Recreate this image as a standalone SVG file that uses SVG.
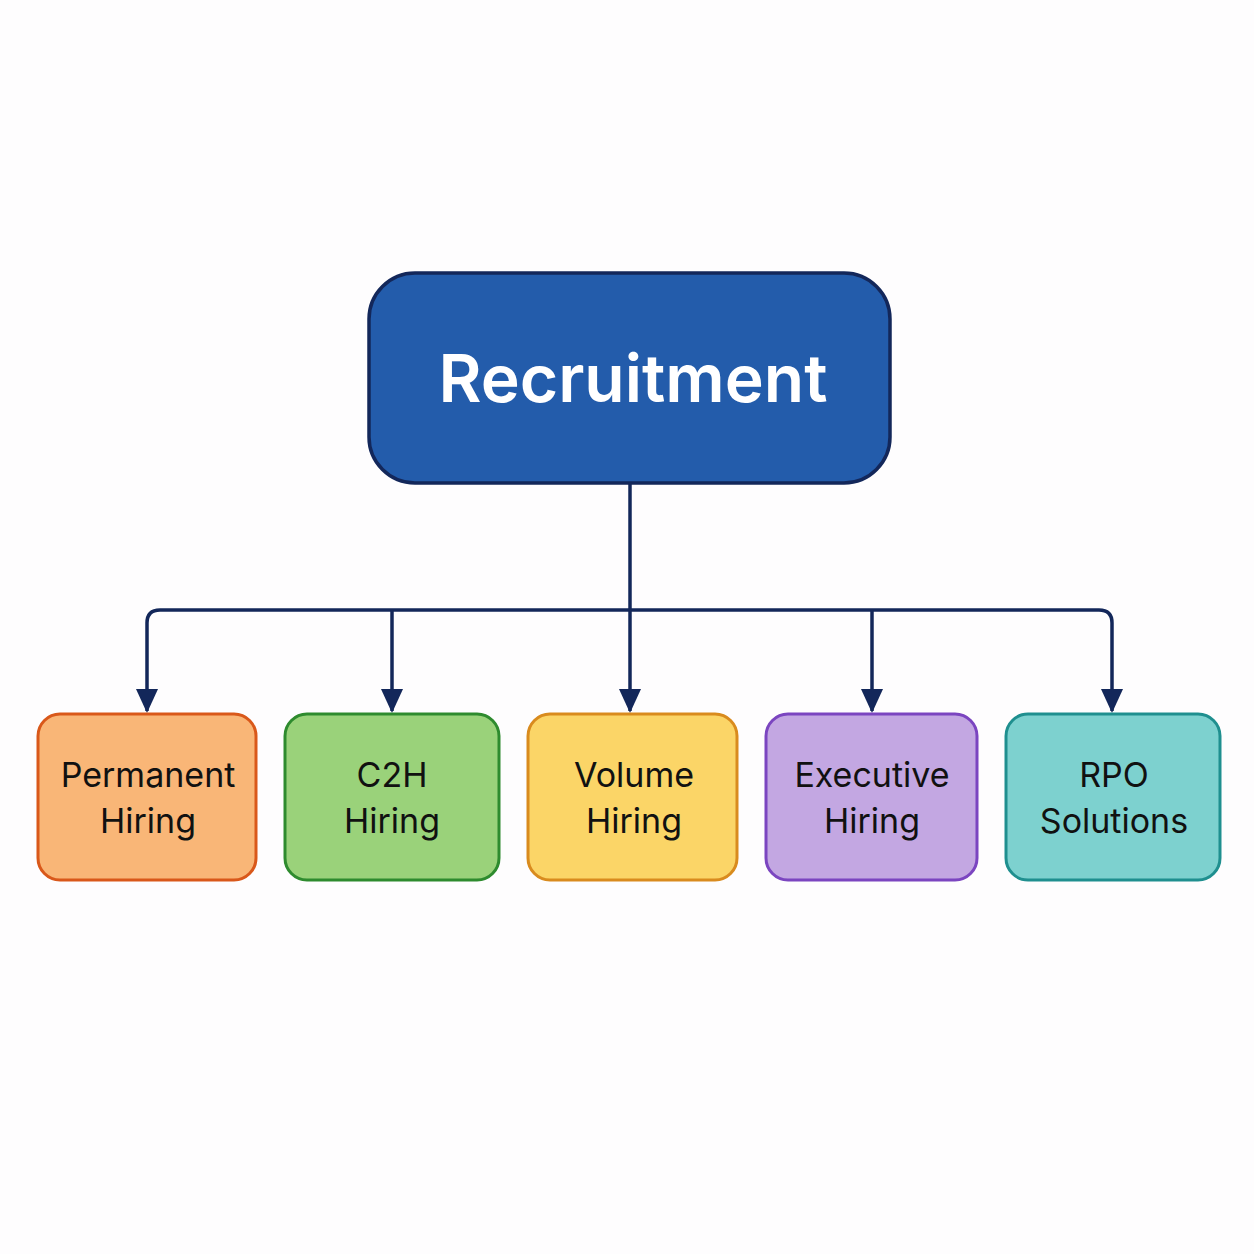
<svg xmlns="http://www.w3.org/2000/svg" width="1254" height="1254" viewBox="0 0 1254 1254">
<defs>
<style>
.lbl{font-family:Inter,"Open Sans","Liberation Sans",sans-serif;font-size:34px;fill:#111;text-anchor:middle}
.box{stroke-width:3}
.con{fill:none;stroke:#13275A;stroke-width:3.5}
</style>
<marker id="ah" viewBox="0 0 10 10" refX="9" refY="5" markerWidth="7" markerHeight="7" markerUnits="userSpaceOnUse" orient="auto">
<path d="M0,0 L10,5 L0,10 z" fill="#13275A"/>
</marker>
<marker id="a" viewBox="0 0 24 24" refX="22" refY="12" markerWidth="24" markerHeight="24" markerUnits="userSpaceOnUse" orient="auto">
<path d="M0,1 L24,12 L0,23 z" fill="#13275A"/>
</marker>
</defs>
<rect width="1254" height="1254" fill="#FEFDFE"/>
<g id="connectors">
<path class="con" d="M630,484 V610"/>
<path class="con" d="M630,610 H160 Q147,610 147,623 V711" marker-end="url(#a)"/>
<path class="con" d="M630,610 H1099 Q1112,610 1112,623 V711" marker-end="url(#a)"/>
<path class="con" d="M392,610 V711" marker-end="url(#a)"/>
<path class="con" d="M630,610 V711" marker-end="url(#a)"/>
<path class="con" d="M872,610 V711" marker-end="url(#a)"/>
</g>
<g id="root">
<rect x="369" y="273" width="521" height="210" rx="46" fill="#235CAB" stroke="#13275A" stroke-width="3.5"/>
<text x="633" y="402" font-family="Inter,'Open Sans','Liberation Sans',sans-serif" font-size="66" font-weight="600" fill="#fff" text-anchor="middle">Recruitment</text>
</g>
<g id="permanent">
<rect class="box" x="38" y="714" width="218" height="166" rx="22" fill="#F9B677" stroke="#D9581A"/>
<text class="lbl" x="148" y="787">Permanent</text><text class="lbl" x="148" y="833">Hiring</text>
</g>
<g id="c2h">
<rect class="box" x="285" y="714" width="214" height="166" rx="22" fill="#9AD27A" stroke="#2E8B2E"/>
<text class="lbl" x="392" y="787">C2H</text><text class="lbl" x="392" y="833">Hiring</text>
</g>
<g id="volume">
<rect class="box" x="528" y="714" width="209" height="166" rx="22" fill="#FBD567" stroke="#D98B1E"/>
<text class="lbl" x="634" y="787">Volume</text><text class="lbl" x="634" y="833">Hiring</text>
</g>
<g id="executive">
<rect class="box" x="766" y="714" width="211" height="166" rx="22" fill="#C3A7E2" stroke="#7B45C0"/>
<text class="lbl" x="872" y="787">Executive</text><text class="lbl" x="872" y="833">Hiring</text>
</g>
<g id="rpo">
<rect class="box" x="1006" y="714" width="214" height="166" rx="22" fill="#7DD1CF" stroke="#1F8F8F"/>
<text class="lbl" x="1114" y="787">RPO</text><text class="lbl" x="1114" y="833">Solutions</text>
</g>
</svg>
